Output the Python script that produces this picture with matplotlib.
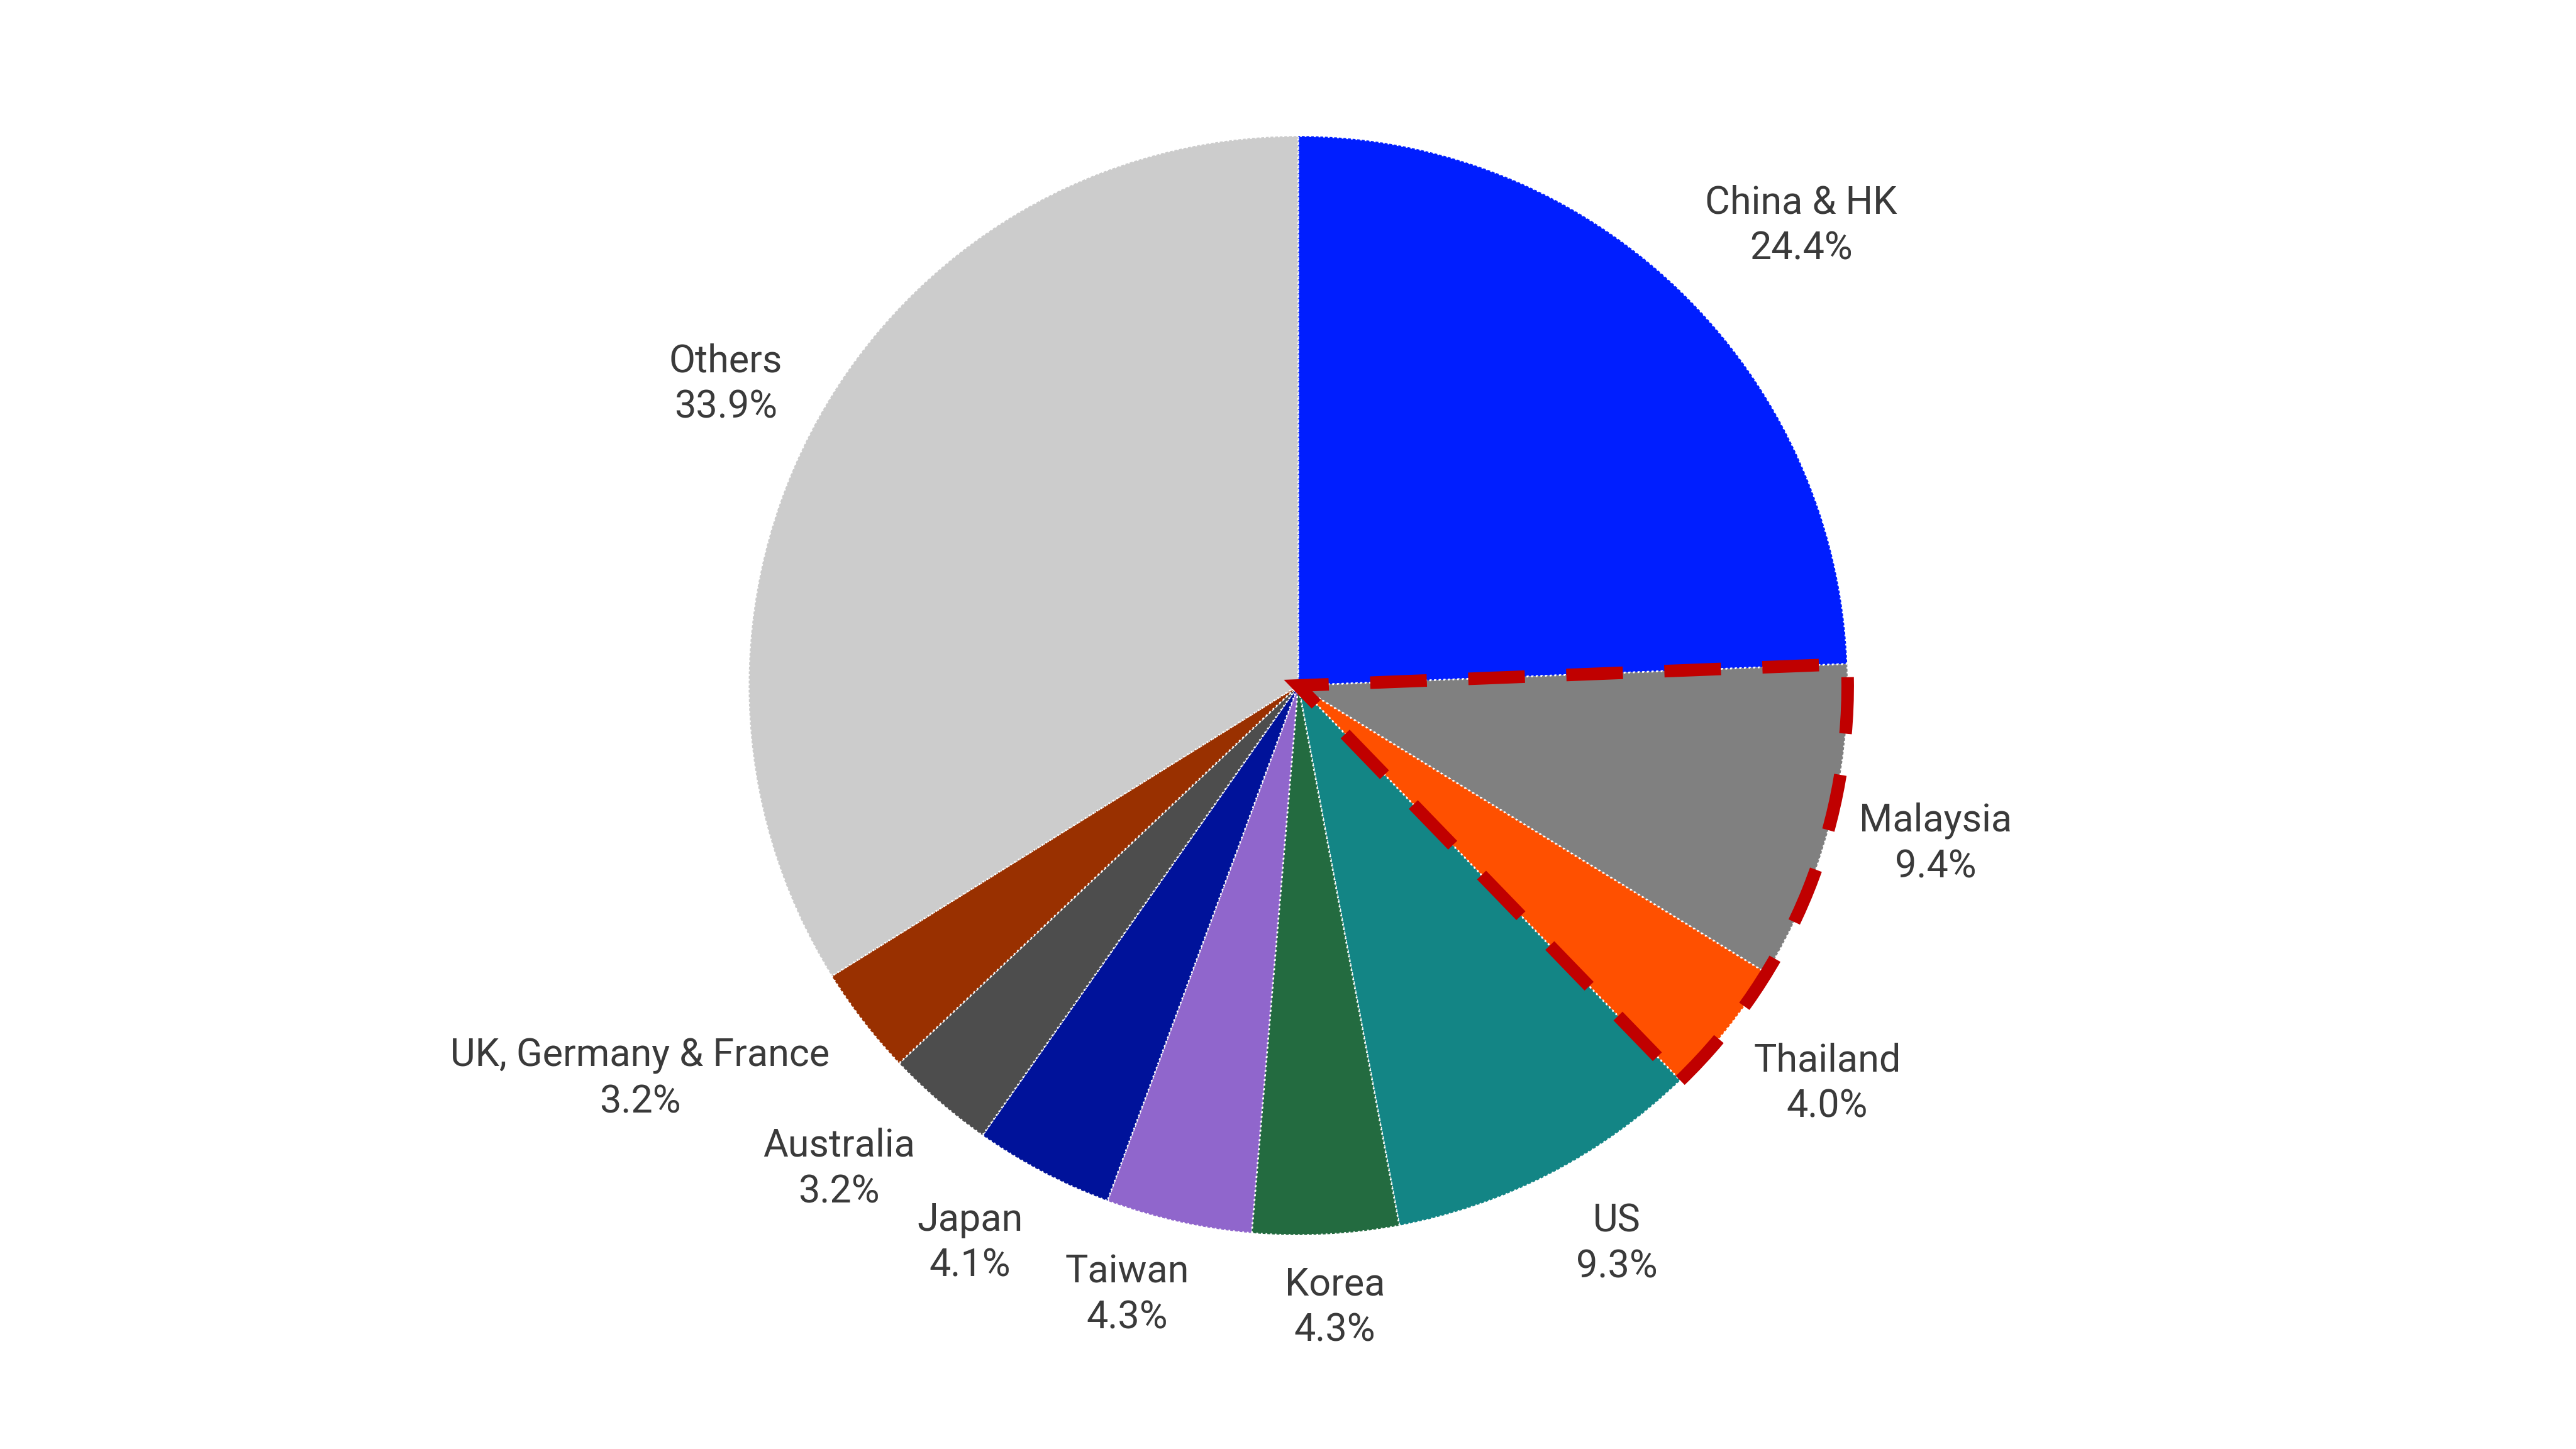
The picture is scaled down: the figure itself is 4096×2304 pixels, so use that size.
import matplotlib
matplotlib.use("Agg")
import matplotlib.pyplot as plt
import matplotlib.patches as mpatches
import numpy as np

# data
countries = [
    "China & HK", "Malaysia", "Thailand", "US", "Korea",
    "Taiwan", "Japan", "Australia", "UK, Germany & France", "Others",
]
shares = [24.4, 9.4, 4.0, 9.3, 4.3, 4.3, 4.1, 3.2, 3.2, 33.9]

colors = [
    "#001EFF", "#808080", "#FF5000", "#138585", "#236B40",
    "#9066CC", "#00129A", "#4D4D4D", "#993000", "#CCCCCC",
]

# label layout: radial distance (in pie radii) and angular nudge (deg) per wedge
label_r = [1.24, 1.195, 1.205, 1.17, 1.134, 1.152, 1.177, 1.213, 1.395, 1.177]
label_nudge = [-3.7, 0.7, 1.8, 2.4, 0.5, -3.1, -2.8, -2.7, -6.8, 1.3]

plt.rcParams["font.family"] = ["Roboto", "DejaVu Sans"]

fig = plt.figure(figsize=(20.48, 11.52), dpi=200)
ax = fig.add_axes([0.0772, 0.0339, 0.8535, 0.986])

wedges, _ = ax.pie(
    shares,
    colors=colors,
    startangle=90,
    counterclock=False,
    radius=1,
    wedgeprops=dict(edgecolor="white", linewidth=1.0, linestyle=":"),
)

# pie() resets the limits, so set them afterwards
ax.set_xlim(-2, 2)
ax.set_ylim(-1.3, 1.3)
ax.set_aspect("equal")
ax.axis("off")

for w, name, val, r, nudge in zip(wedges, countries, shares, label_r, label_nudge):
    mid = np.deg2rad((w.theta1 + w.theta2) / 2 + nudge)
    ax.text(
        r * np.cos(mid), r * np.sin(mid), f"{name}\n{val:.1f}%",
        ha="center", va="center", multialignment="center",
        fontsize=22, color="#3A3A3A", linespacing=1.33,
    )

# dashed outline round Malaysia + Thailand
top = wedges[1].theta2
bottom = wedges[2].theta1
outline = mpatches.Wedge(
    (0, 0), 1, bottom, top, fill=False,
    edgecolor="#C00000", linewidth=7.2, linestyle=(0, (4.5, 3.3)),
    joinstyle="miter", zorder=5,
)
ax.add_patch(outline)

fig.savefig("out.png", dpi=200, facecolor="white")
